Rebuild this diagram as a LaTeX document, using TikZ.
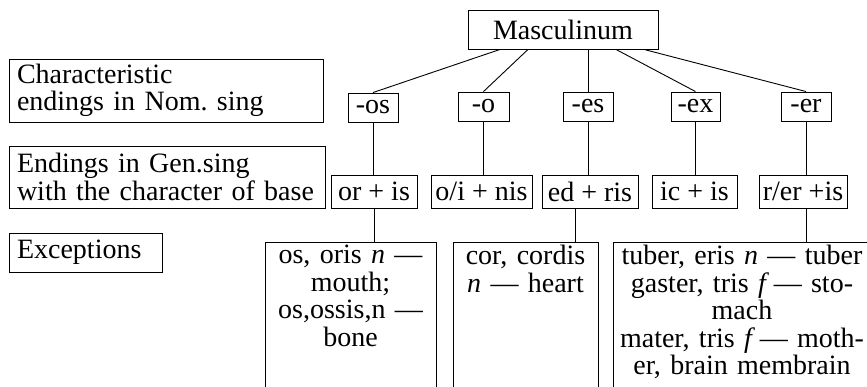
\documentclass[tikz,border=0pt]{standalone}
\usepackage{fontspec}
\setmainfont{Liberation Serif}
\usepackage{tikz}
\frenchspacing

\begin{document}
\begin{tikzpicture}[x=1pt, y=-1pt, line width=0.9pt, font=\fontsize{28}{27.5}\selectfont, inner sep=0pt,
    box/.style = {draw, minimum height=29pt},
    gen/.style = {draw, minimum height=33pt},
    lab/.style = {draw, align=left, inner xsep=8pt},
    exc/.style = {draw, anchor=north, align=center, inner ysep=3pt, text depth=160pt}]
    \clip (0,0) rectangle (867,387);
                \node[draw, minimum width=190pt, minimum height=39pt] (masc) at (563,29.5) {Masculinum};
                \node[lab, text width=298pt, minimum height=63pt] (lab1) at (166,90.5) {Characteristic\\endings in Nom. sing};
                \node[lab, text width=300pt, minimum height=62pt] (lab2) at (167,177) {Endings in Gen.sing\\with the character of base};
                \node[lab, text width=137pt, minimum height=39pt] (lab3) at (85.5,252.5) {Exceptions};
                \node[box, minimum width=50pt] (os) at (373,107.5) {-os};
                \node[box, minimum width=51pt] (o) at (483.5,106.5) {-o};
                \node[box, minimum width=50pt] (es) at (588,106.5) {-es};
                \node[box, minimum width=49pt] (ex) at (695.5,106.5) {-ex};
                \node[box, minimum width=50pt] (er) at (806,106.5) {-er};
                \node[gen, minimum width=86pt] (g1) at (374,191.5) {or + is};
                \node[gen, minimum width=101pt] (g2) at (481.5,191.5) {o/i + nis};
                \node[gen, minimum width=96pt] (g3) at (590,191.5) {ed + ris};
                \node[gen, minimum width=85pt] (g4) at (694.5,191.5) {ic + is};
                \node[gen, minimum width=88pt] (g5) at (803,191.5) {r/er +is};
                \node[exc, text width=171pt] (x1) at (350.5,242) {os, oris \textit{n} —\\mouth;\\os,ossis,n —\\bone};
                \node[exc, text width=145pt] (x2) at (525.5,242) {cor, cordis\\\textit{n} — heart};
                \node[exc, text width=258pt] (x3) at (742,242) {tuber, eris \textit{n} — tuber\\gaster, tris \textit{f}\,— sto-\\mach\\mater, tris \textit{f}\,— moth-\\er, brain membrain};
                \draw ([xshift=-63pt]masc.south) -- (os.north);
                \draw ([xshift=-35pt]masc.south) -- (o.north);
                \draw (es.north) -- (es.north |- masc.south);
                \draw ([xshift=53pt]masc.south) -- (ex.north);
                \draw ([xshift=81pt]masc.south) -- (er.north);
                \draw (os.south) -- (os.south |- g1.north);
                \draw (o.south) -- (o.south |- g2.north);
                \draw (es.south) -- (es.south |- g3.north);
                \draw (ex.south) -- (ex.south |- g4.north);
                \draw (er.south) -- (er.south |- g5.north);
                \draw (g1.south) -- (g1.south |- x1.north);
                \draw ([xshift=-15pt]g3.south) -- ([xshift=-15pt]g3.south |- x2.north);
                \draw (er.south |- g5.south) -- (er.south |- x3.north);
            \end{tikzpicture}
\end{document}
